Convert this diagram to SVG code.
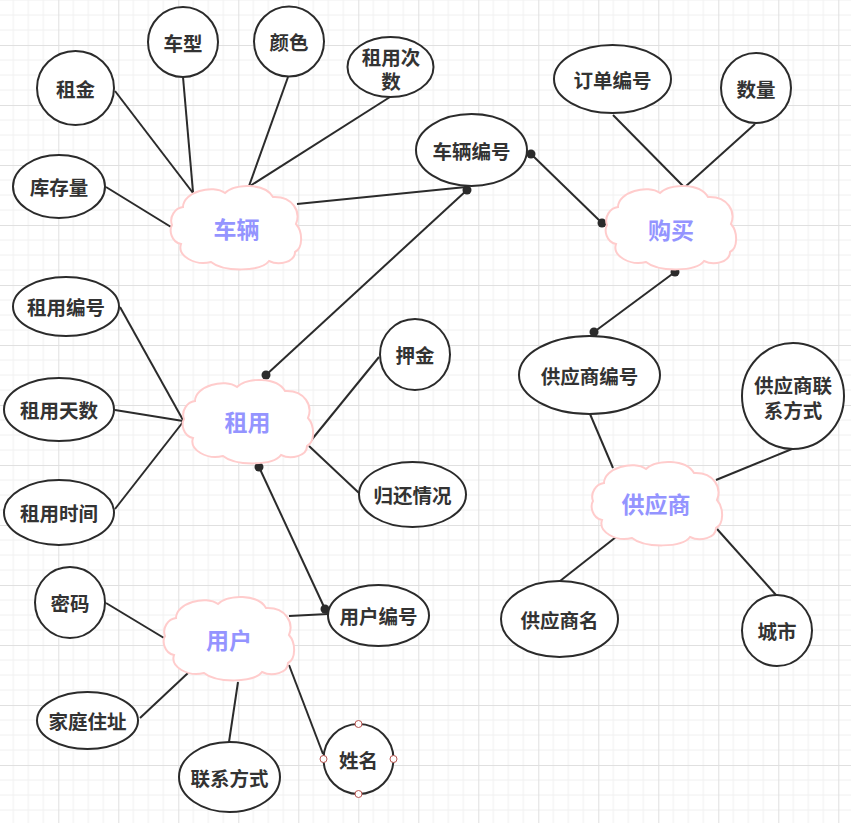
<svg xmlns="http://www.w3.org/2000/svg" xmlns:xlink="http://www.w3.org/1999/xlink" width="851" height="823" viewBox="0 0 851 823">
<style>
.attr{fill:#fff;stroke:#2b2b2b;stroke-width:2}
.t{font-family:"Noto Sans CJK SC","Noto Sans",sans-serif;font-weight:bold;font-size:19.5px;fill:#333;text-anchor:middle;dominant-baseline:central}
.ct{font-family:"Noto Sans CJK SC","Noto Sans",sans-serif;font-weight:bold;font-size:23px;fill:#9494ff;text-anchor:middle;dominant-baseline:central}
.cloud{fill:#fff;stroke:#ffcccc;stroke-width:2}
.ln{stroke:#2b2b2b;stroke-width:2;fill:none}
.dot{fill:#2b2b2b}
.h{fill:#fff;stroke:#b85450;stroke-width:1}
</style>
<defs>
<pattern id="grid" width="60" height="60" patternUnits="userSpaceOnUse" patternTransform="translate(58.3 45)">
<path d="M15 0V60M30 0V60M45 0V60M0 15H60M0 30H60M0 45H60" stroke="#f0f0f0" stroke-width="1" fill="none"/>
<path d="M0.5 0V60M0 0.5H60" stroke="#e0e0e0" stroke-width="1" fill="none"/>
</pattern>
<path id="cl" d="M1,39 C-2,31 4,22 12,21 C12,6 42,-2 54,7 C64,-3 94,-3 102,11 C122,10 130,26 125,38 C132,46 132,62 124,66 C124,76 108,80 98,75 C90,86 52,86 40,76 C24,80 6,70 10,58 C0,56 -2,44 1,39 Z"/>
</defs>
<rect width="851" height="823" fill="#fff"/>
<rect width="851" height="823" fill="url(#grid)"/>
<g id="connectors">
<line class="ln" x1="115" y1="91" x2="193" y2="193"/>
<line class="ln" x1="183" y1="77" x2="193" y2="192"/>
<line class="ln" x1="288" y1="77" x2="249" y2="186"/>
<line class="ln" x1="390" y1="97" x2="250" y2="186"/>
<line class="ln" x1="106" y1="187" x2="171" y2="227"/>
<line class="ln" x1="297" y1="204" x2="466" y2="187"/>
<line class="ln" x1="266" y1="375" x2="467" y2="190"/>
<line class="ln" x1="531" y1="154" x2="602" y2="223"/>
<line class="ln" x1="613" y1="115" x2="684" y2="187"/>
<line class="ln" x1="755" y1="124" x2="685" y2="187"/>
<line class="ln" x1="675" y1="272" x2="594" y2="332"/>
<line class="ln" x1="590" y1="414" x2="613" y2="468"/>
<line class="ln" x1="792" y1="449" x2="716" y2="480"/>
<line class="ln" x1="560" y1="581" x2="616" y2="537"/>
<line class="ln" x1="776" y1="595" x2="717" y2="529"/>
<line class="ln" x1="120" y1="307" x2="183" y2="420"/>
<line class="ln" x1="115" y1="410" x2="183" y2="421"/>
<line class="ln" x1="115" y1="509" x2="183" y2="422"/>
<line class="ln" x1="379" y1="357" x2="309" y2="443"/>
<line class="ln" x1="359" y1="493" x2="309" y2="446"/>
<line class="ln" x1="259" y1="467" x2="325" y2="609"/>
<line class="ln" x1="289" y1="616" x2="328" y2="614"/>
<line class="ln" x1="106" y1="603" x2="164" y2="638"/>
<line class="ln" x1="140" y1="718" x2="188" y2="673"/>
<line class="ln" x1="229" y1="742" x2="238" y2="682"/>
<line class="ln" x1="323" y1="754" x2="289" y2="665"/>
<circle class="dot" cx="467" cy="190" r="4.5"/>
<circle class="dot" cx="266" cy="375" r="4.5"/>
<circle class="dot" cx="531" cy="154" r="4.5"/>
<circle class="dot" cx="602" cy="223" r="4.5"/>
<circle class="dot" cx="675" cy="272" r="4.5"/>
<circle class="dot" cx="594" cy="332" r="4.5"/>
<circle class="dot" cx="259" cy="467" r="4.5"/>
<circle class="dot" cx="325" cy="609" r="4.5"/>
</g>
<g id="cloud-vehicle"><use href="#cl" class="cloud" transform="translate(171 186)"/><text class="ct" x="236.5" y="228">车辆</text></g>
<g id="cloud-purchase"><use href="#cl" class="cloud" transform="translate(606 186)"/><text class="ct" x="671" y="228.5">购买</text></g>
<g id="cloud-rent"><use href="#cl" class="cloud" transform="translate(183 380)"/><text class="ct" x="247.5" y="420.5">租用</text></g>
<g id="cloud-supplier"><use href="#cl" class="cloud" transform="translate(592 462)"/><text class="ct" x="656" y="502.5">供应商</text></g>
<g id="cloud-user"><use href="#cl" class="cloud" transform="translate(164 597)"/><text class="ct" x="229" y="639">用户</text></g>
<g id="n-zujin"><ellipse class="attr" cx="75.5" cy="88" rx="38.5" ry="37"/><text class="t" x="75.5" y="88">租金</text></g>
<g id="n-chexing"><ellipse class="attr" cx="183" cy="42" rx="35" ry="35"/><text class="t" x="183" y="42">车型</text></g>
<g id="n-yanse"><ellipse class="attr" cx="289" cy="41.5" rx="35" ry="35"/><text class="t" x="289" y="41.5">颜色</text></g>
<g id="n-zuyongcishu"><ellipse class="attr" cx="390.5" cy="67" rx="43" ry="30"/><text class="t" x="391" y="56">租用次<tspan x="391" dy="24">数</tspan></text></g>
<g id="n-kucunliang"><ellipse class="attr" cx="59" cy="186.5" rx="46" ry="31.5"/><text class="t" x="59" y="186.5">库存量</text></g>
<g id="n-cheliangbianhao"><ellipse class="attr" cx="471.5" cy="150" rx="55.5" ry="36"/><text class="t" x="471.5" y="150">车辆编号</text></g>
<g id="n-dingdanbianhao"><ellipse class="attr" cx="612.5" cy="79" rx="58.5" ry="34"/><text class="t" x="612.5" y="79">订单编号</text></g>
<g id="n-shuliang"><ellipse class="attr" cx="756" cy="88" rx="35" ry="35"/><text class="t" x="756" y="88">数量</text></g>
<g id="n-zuyongbianhao"><ellipse class="attr" cx="66" cy="306.5" rx="53" ry="29.5"/><text class="t" x="66" y="306.5">租用编号</text></g>
<g id="n-zuyongtianshu"><ellipse class="attr" cx="59" cy="409.5" rx="55" ry="31.5"/><text class="t" x="59" y="409.5">租用天数</text></g>
<g id="n-zuyongshijian"><ellipse class="attr" cx="59" cy="512.5" rx="55" ry="32.5"/><text class="t" x="59" y="512.5">租用时间</text></g>
<g id="n-yajin"><ellipse class="attr" cx="415" cy="354.5" rx="35" ry="35.5"/><text class="t" x="415" y="354.5">押金</text></g>
<g id="n-guihuanqingkuang"><ellipse class="attr" cx="412.5" cy="494.5" rx="53.5" ry="32.5"/><text class="t" x="412.5" y="494.5">归还情况</text></g>
<g id="n-gongyingshangbianhao"><ellipse class="attr" cx="589.5" cy="375" rx="70.5" ry="39"/><text class="t" x="589.5" y="375">供应商编号</text></g>
<g id="n-gongyingshanglianxi"><ellipse class="attr" cx="793" cy="396" rx="51" ry="53"/><text class="t" x="793" y="384">供应商联<tspan x="793" dy="25">系方式</tspan></text></g>
<g id="n-gongyingshangming"><ellipse class="attr" cx="559.5" cy="619" rx="58.5" ry="38"/><text class="t" x="559.5" y="619">供应商名</text></g>
<g id="n-chengshi"><ellipse class="attr" cx="777" cy="630.5" rx="35" ry="35.5"/><text class="t" x="777" y="630.5">城市</text></g>
<g id="n-mima"><ellipse class="attr" cx="70" cy="602.5" rx="35" ry="35.5"/><text class="t" x="70" y="602.5">密码</text></g>
<g id="n-jiatingzhuzhi"><ellipse class="attr" cx="87.5" cy="720.5" rx="50.5" ry="28.5"/><text class="t" x="87.5" y="720.5">家庭住址</text></g>
<g id="n-lianxifangshi"><ellipse class="attr" cx="229.5" cy="777" rx="50.5" ry="35"/><text class="t" x="229.5" y="777">联系方式</text></g>
<g id="n-yonghubianhao"><ellipse class="attr" cx="378.5" cy="615.5" rx="50.5" ry="30.5"/><text class="t" x="378.5" y="615.5">用户编号</text></g>
<g id="n-xingming"><ellipse class="attr" cx="358.5" cy="759" rx="35" ry="35"/><text class="t" x="358.5" y="759">姓名</text>
<circle class="h" cx="358.5" cy="724" r="3.5"/><circle class="h" cx="323.5" cy="759" r="3.5"/><circle class="h" cx="393.5" cy="759" r="3.5"/><circle class="h" cx="358.5" cy="794" r="3.5"/></g>
</svg>
